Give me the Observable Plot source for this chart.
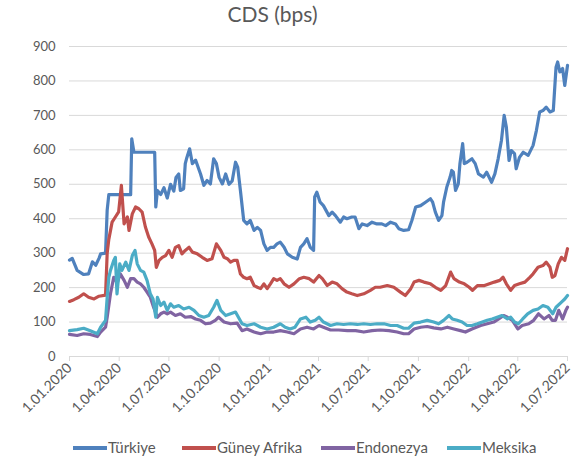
<!DOCTYPE html>
<html>
<head>
<meta charset="utf-8">
<script src="https://cdn.jsdelivr.net/npm/d3@7"></script>
<script src="https://cdn.jsdelivr.net/npm/@observablehq/plot@0.6"></script>
<style>
  html, body { margin: 0; padding: 0; background: #fff; }
  #wrap { position: relative; width: 575px; height: 465px; font-family: Lato, "Open Sans", sans-serif; color: #595959; }
  #title { position: absolute; left: 0; width: 545px; top: 1px; text-align: center; font-size: 21px; }
  .leg { position: absolute; top: 438px; font-size: 15px; line-height: 18px; white-space: nowrap; }
  .sw { display: inline-block; width: 34px; height: 4px; vertical-align: middle; margin-right: 1px; position: relative; top: -1px; }
  #chart { position: absolute; left: 0; top: 0; }
</style>
</head>
<body>
<div id="wrap">
  <div id="chart"></div>
  <div id="title">CDS (bps)</div>
  <div id="legend"></div>
</div>
<script>
const seriesNames = ["Türkiye", "Güney Afrika", "Endonezya", "Meksika"];
const seriesColors = ["#4F81BD", "#C0504D", "#8064A2", "#4BACC6"];
const yTicks = [0, 100, 200, 300, 400, 500, 600, 700, 800, 900];
const xTickDates = ["2020-01-01","2020-04-01","2020-07-01","2020-10-01","2021-01-01","2021-04-01","2021-07-01","2021-10-01","2022-01-01","2022-04-01","2022-07-01"];

const turkiyeDates = ["2020-01-01","2020-01-06","2020-01-15","2020-01-27","2020-02-05","2020-02-12","2020-02-18","2020-02-24","2020-02-27","2020-03-07","2020-03-10","2020-03-13","2020-04-22","2020-04-24","2020-04-28","2020-06-05","2020-06-07","2020-06-10","2020-06-16","2020-06-22","2020-06-28","2020-07-04","2020-07-10","2020-07-14","2020-07-19","2020-07-22","2020-07-28","2020-07-31","2020-08-03","2020-08-08","2020-08-13","2020-08-19","2020-08-28","2020-09-03","2020-09-09","2020-09-15","2020-09-21","2020-09-26","2020-10-01","2020-10-07","2020-10-13","2020-10-19","2020-10-25","2020-10-31","2020-11-04","2020-11-09","2020-11-15","2020-11-21","2020-11-27","2020-12-04","2020-12-10","2020-12-16","2020-12-22","2020-12-28","2021-01-03","2021-01-09","2021-01-15","2021-01-21","2021-01-28","2021-02-03","2021-02-12","2021-02-21","2021-02-27","2021-03-05","2021-03-11","2021-03-17","2021-03-23","2021-03-25","2021-03-29","2021-04-04","2021-04-10","2021-04-20","2021-04-26","2021-05-02","2021-05-11","2021-05-17","2021-05-23","2021-06-01","2021-06-07","2021-06-14","2021-06-20","2021-06-29","2021-07-08","2021-07-17","2021-07-26","2021-08-02","2021-08-11","2021-08-20","2021-08-26","2021-09-04","2021-09-13","2021-09-19","2021-09-26","2021-10-05","2021-10-14","2021-10-23","2021-10-27","2021-11-01","2021-11-07","2021-11-13","2021-11-16","2021-11-22","2021-11-28","2021-12-01","2021-12-04","2021-12-08","2021-12-13","2021-12-16","2021-12-21","2021-12-24","2021-12-29","2022-01-07","2022-01-13","2022-01-19","2022-01-28","2022-02-03","2022-02-12","2022-02-18","2022-02-24","2022-03-02","2022-03-07","2022-03-11","2022-03-16","2022-03-20","2022-03-26","2022-03-29","2022-04-04","2022-04-11","2022-04-20","2022-04-29","2022-05-05","2022-05-11","2022-05-17","2022-05-23","2022-05-30","2022-06-05","2022-06-10","2022-06-13","2022-06-17","2022-06-22","2022-06-26","2022-07-01"];
const turkiyeValues = [280,285,250,238,240,275,265,285,298,300,425,470,470,632,593,593,434,482,470,490,460,500,480,520,530,482,487,560,578,603,560,570,530,497,511,501,574,560,520,501,530,500,510,564,550,482,395,385,395,366,375,366,327,308,317,317,327,332,317,298,288,283,317,327,342,317,308,463,477,448,438,409,419,409,390,405,400,405,405,371,385,380,390,385,385,380,390,385,371,366,368,395,434,438,448,458,448,419,395,409,448,492,521,540,535,482,501,560,618,560,564,574,560,530,521,535,506,530,574,627,700,666,569,598,589,545,578,593,584,613,656,710,714,724,710,714,840,855,826,836,787,845];

const guneyDates = ["2020-01-01","2020-01-09","2020-01-18","2020-01-27","2020-02-05","2020-02-15","2020-02-24","2020-03-07","2020-03-10","2020-03-13","2020-03-19","2020-03-25","2020-03-31","2020-04-05","2020-04-10","2020-04-16","2020-04-19","2020-04-25","2020-05-01","2020-05-07","2020-05-13","2020-05-19","2020-05-25","2020-05-31","2020-06-05","2020-06-08","2020-06-13","2020-06-19","2020-06-25","2020-07-01","2020-07-07","2020-07-13","2020-07-19","2020-07-25","2020-07-31","2020-08-07","2020-08-13","2020-08-22","2020-08-31","2020-09-09","2020-09-18","2020-09-26","2020-10-04","2020-10-10","2020-10-16","2020-10-22","2020-10-28","2020-11-03","2020-11-09","2020-11-15","2020-11-21","2020-11-27","2020-12-04","2020-12-10","2020-12-16","2020-12-22","2020-12-28","2021-01-03","2021-01-09","2021-01-15","2021-01-21","2021-01-28","2021-02-06","2021-02-15","2021-02-25","2021-03-05","2021-03-15","2021-03-23","2021-04-02","2021-04-08","2021-04-17","2021-04-26","2021-05-05","2021-05-14","2021-05-23","2021-06-01","2021-06-11","2021-06-23","2021-07-05","2021-07-14","2021-07-23","2021-08-05","2021-08-17","2021-08-29","2021-09-07","2021-09-17","2021-09-23","2021-10-02","2021-10-11","2021-10-23","2021-11-01","2021-11-11","2021-11-20","2021-11-29","2021-12-05","2021-12-15","2021-12-24","2022-01-02","2022-01-08","2022-01-17","2022-01-30","2022-02-08","2022-02-17","2022-02-27","2022-03-05","2022-03-11","2022-03-19","2022-03-26","2022-04-04","2022-04-14","2022-04-23","2022-04-29","2022-05-08","2022-05-17","2022-05-23","2022-05-30","2022-06-03","2022-06-08","2022-06-14","2022-06-20","2022-06-26","2022-07-01"];
const guneyValues = [160,165,172,182,172,167,175,178,300,340,390,405,420,497,385,405,366,414,434,429,419,376,347,327,308,259,279,288,293,308,288,317,322,298,308,317,303,298,288,279,284,327,308,288,284,274,279,279,240,230,226,230,206,201,197,211,197,211,226,221,226,211,201,211,226,230,226,216,235,226,206,216,211,197,187,182,177,182,192,201,201,206,201,187,177,197,216,221,216,211,201,192,206,245,226,216,211,201,192,206,206,211,216,221,230,211,192,206,211,216,230,240,259,264,274,259,230,235,269,288,279,313];

const endonezyaDates = ["2020-01-01","2020-01-15","2020-01-27","2020-02-08","2020-02-21","2020-02-27","2020-03-07","2020-03-10","2020-03-16","2020-03-22","2020-03-25","2020-03-28","2020-04-03","2020-04-10","2020-04-16","2020-04-22","2020-04-28","2020-05-04","2020-05-10","2020-05-16","2020-05-22","2020-05-28","2020-06-03","2020-06-10","2020-06-16","2020-06-22","2020-06-28","2020-07-04","2020-07-13","2020-07-22","2020-07-31","2020-08-10","2020-08-19","2020-08-28","2020-09-06","2020-09-15","2020-09-24","2020-09-30","2020-10-10","2020-10-22","2020-11-03","2020-11-12","2020-11-21","2020-12-04","2020-12-16","2020-12-28","2021-01-09","2021-01-21","2021-02-03","2021-02-15","2021-02-27","2021-03-11","2021-03-23","2021-04-02","2021-04-10","2021-04-23","2021-05-08","2021-05-24","2021-06-08","2021-06-23","2021-07-08","2021-07-23","2021-08-08","2021-08-23","2021-09-04","2021-09-13","2021-09-23","2021-10-05","2021-10-17","2021-10-29","2021-11-11","2021-11-23","2021-12-05","2021-12-17","2021-12-26","2022-01-07","2022-01-23","2022-02-04","2022-02-16","2022-02-25","2022-03-06","2022-03-13","2022-03-22","2022-04-01","2022-04-09","2022-04-21","2022-04-30","2022-05-09","2022-05-19","2022-05-28","2022-06-03","2022-06-09","2022-06-15","2022-06-22","2022-06-28","2022-07-01"];
const endonezyaValues = [64,61,66,64,58,71,85,114,182,230,226,211,240,221,201,226,226,216,211,201,187,172,143,114,124,129,124,129,119,124,114,116,109,105,95,97,105,114,100,95,97,75,80,71,66,71,71,75,71,66,80,85,80,90,85,77,77,75,75,71,75,77,75,71,66,66,80,85,87,83,80,85,80,75,71,80,90,95,100,109,119,114,105,80,90,95,105,124,109,119,105,105,134,109,134,143];

const meksikaDates = ["2020-01-01","2020-01-15","2020-01-27","2020-02-08","2020-02-21","2020-02-27","2020-03-07","2020-03-10","2020-03-13","2020-03-16","2020-03-22","2020-03-25","2020-03-28","2020-04-02","2020-04-06","2020-04-13","2020-04-19","2020-04-25","2020-04-30","2020-05-04","2020-05-10","2020-05-16","2020-05-22","2020-05-28","2020-06-02","2020-06-07","2020-06-10","2020-06-16","2020-06-22","2020-06-28","2020-07-04","2020-07-10","2020-07-19","2020-07-28","2020-08-07","2020-08-16","2020-08-25","2020-09-03","2020-09-12","2020-09-21","2020-09-27","2020-10-04","2020-10-13","2020-10-22","2020-10-31","2020-11-12","2020-11-21","2020-12-04","2020-12-16","2020-12-28","2021-01-09","2021-01-21","2021-01-30","2021-02-08","2021-02-17","2021-02-27","2021-03-09","2021-03-17","2021-03-26","2021-04-02","2021-04-10","2021-04-23","2021-05-05","2021-05-17","2021-05-29","2021-06-11","2021-06-23","2021-07-05","2021-07-17","2021-07-30","2021-08-11","2021-08-23","2021-09-04","2021-09-13","2021-09-23","2021-10-05","2021-10-17","2021-10-29","2021-11-07","2021-11-16","2021-11-26","2021-12-02","2021-12-11","2021-12-20","2021-12-29","2022-01-07","2022-01-17","2022-01-26","2022-02-04","2022-02-13","2022-02-22","2022-03-03","2022-03-13","2022-03-19","2022-03-26","2022-04-02","2022-04-10","2022-04-19","2022-04-29","2022-05-08","2022-05-17","2022-05-26","2022-06-04","2022-06-10","2022-06-20","2022-06-26","2022-07-01"];
const meksikaValues = [75,78,82,75,66,85,105,172,230,250,279,288,182,269,250,274,250,293,308,269,250,245,221,182,167,114,172,148,158,134,153,143,148,138,143,134,119,114,119,143,163,134,119,124,129,95,90,95,85,80,85,95,85,80,85,109,114,100,105,114,100,90,95,93,95,93,95,93,95,95,90,90,82,82,97,100,105,100,95,105,119,109,105,100,90,90,95,100,105,109,114,119,109,114,100,95,109,124,134,138,148,143,124,143,158,167,177];

const parse = d3.utcParse("%Y-%m-%d");
const seriesData = [
  [turkiyeDates, turkiyeValues],
  [guneyDates, guneyValues],
  [endonezyaDates, endonezyaValues],
  [meksikaDates, meksikaValues]
];
const rows = [];
seriesData.forEach(([dates, values], i) => {
  dates.forEach((d, j) => rows.push({series: seriesNames[i], date: parse(d), value: values[j]}));
});
const xTicks = xTickDates.map(parse);
const fmt = d => `${d.getUTCDate()}.${String(d.getUTCMonth() + 1).padStart(2, "0")}.${d.getUTCFullYear()}`;

const chart = Plot.plot({
  width: 575,
  height: 465,
  marginTop: 46,
  marginBottom: 109,
  marginLeft: 69,
  marginRight: 8,
  style: {fontFamily: "Lato, 'Open Sans', sans-serif", fontSize: "13px", color: "#595959", background: "#fff"},
  x: {type: "utc", domain: [parse("2020-01-01"), parse("2022-07-01")]},
  y: {domain: [0, 900]},
  color: {domain: seriesNames, range: seriesColors},
  marks: [
    Plot.ruleY(yTicks, {stroke: "#D9D9D9", strokeWidth: 1}),
    Plot.axisY({ticks: yTicks, tickSize: 0, tickPadding: 14, label: null, fontSize: 13, fill: "#595959"}),
    Plot.axisX({ticks: xTicks, tickFormat: fmt, tickRotate: -45, tickSize: 5, tickPadding: 4, stroke: "#D9D9D9", strokeOpacity: 1, label: null, fontSize: 14, fill: "#595959"}),
    Plot.line(rows, {x: "date", y: "value", z: "series", stroke: "series", strokeWidth: 3.2, strokeLinejoin: "round"})
  ]
});
document.getElementById("chart").appendChild(chart);

const legendPos = [73, 182, 321, 447];
const legend = document.getElementById("legend");
seriesNames.forEach((name, i) => {
  const item = document.createElement("div");
  item.className = "leg";
  item.style.left = legendPos[i] + "px";
  item.innerHTML = `<span class="sw" style="background:${seriesColors[i]}"></span>${name}`;
  legend.appendChild(item);
});
</script>
</body>
</html>
